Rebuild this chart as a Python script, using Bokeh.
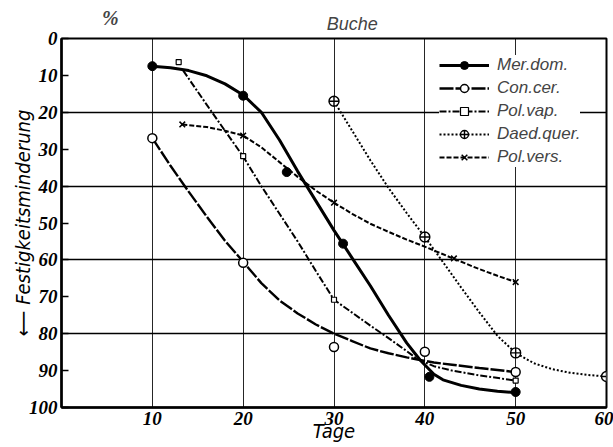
import math
from bokeh.plotting import figure
from bokeh.layouts import column
from bokeh.models import Range1d, FixedTicker, Legend, LegendItem, Label
from bokeh.embed import file_html
from bokeh.resources import INLINE

# ---- data (Tage vs. Festigkeitsminderung %) ----
series_names = ["Mer.dom.", "Con.cer.", "Pol.vap.", "Daed.quer.", "Pol.vers."]

# measured points (markers)
mer_days = [10, 20, 24.8, 31, 40.5, 50]
mer_vals = [7.5, 15.5, 36.2, 55.6, 91.7, 95.8]
con_days = [10, 20, 30, 40, 50]
con_vals = [27, 60.8, 83.6, 84.9, 90.4]
pvap_days = [12.9, 20, 30, 50]
pvap_vals = [6.4, 31.9, 70.8, 92.7]
dq_days = [30, 40, 50, 60]
dq_vals = [17, 53.8, 85.2, 91.6]
pvers_days = [13.3, 20, 30, 43.2, 50]
pvers_vals = [23.3, 26.3, 44.5, 59.6, 66]

# drawn curves
mer_curve_x = [10, 12, 14, 16, 18, 20, 22, 24, 26, 28, 30, 32, 34, 36, 38, 39.5, 41, 42, 44, 46, 48, 50]
mer_curve_y = [7.5, 7.9, 8.7, 10.1, 12.3, 15.3, 20, 27.5, 36, 44, 52, 59.5, 67, 75, 82.5, 87.2, 91, 92.5, 94, 95, 95.6, 96]
con_curve_x = [10, 12, 14, 16, 18, 20, 22, 24, 26, 28, 30, 32, 34, 36, 38, 39.2, 41, 43, 46, 50]
con_curve_y = [27, 34.5, 41.5, 48.3, 54.8, 60.5, 66.3, 71, 74.5, 77.5, 80, 82, 84, 85.3, 86.4, 87, 87.8, 88.4, 89.3, 90.4]
pvap_curve_x = [13.4, 16, 18, 20, 22, 24, 26, 28, 30, 32, 34, 36, 38, 39.2, 41, 43, 46, 50]
pvap_curve_y = [8.7, 18, 25, 32, 40, 47.5, 55, 63, 70.8, 74.3, 77.8, 81.2, 84.7, 86.9, 88.8, 90, 91.3, 92.7]
dq_curve_x = [30, 32, 34, 36, 38, 40, 42, 44, 46, 48, 50, 52, 54, 56, 58, 60]
dq_curve_y = [17, 25, 33, 40.5, 47.3, 53.8, 60.6, 67.5, 74.2, 80.6, 85.2, 88, 89.6, 90.6, 91.2, 91.6]
pvers_curve_x = [13.3, 16, 18, 20, 22, 24, 26, 28, 30, 32, 34, 36, 38, 40, 43, 46, 48, 50]
pvers_curve_y = [23.3, 24, 25, 26.3, 29.5, 33.5, 37.5, 41.2, 44.5, 47.5, 50.2, 52.4, 54.5, 56.4, 59.5, 62.5, 64.3, 66]

x_ticks = [10, 20, 30, 40, 50, 60]
y_ticks = [0, 10, 20, 30, 40, 50, 60, 70, 80, 90, 100]

FONT_TICK = "Noto Sans Condensed"
FONT_LAB = "DejaVu Sans Condensed"
SANS = "Liberation Sans"

HEAD_H = 38
OVERLAP = 12

# ---- header strip with "%" and title ----
head = figure(width=613, height=HEAD_H, x_range=Range1d(0, 613), y_range=Range1d(0, HEAD_H),
              output_backend="svg", toolbar_location=None, min_border=0,
              x_axis_type=None, y_axis_type=None)
head.outline_line_color = None
head.grid.visible = False
head.add_layout(Label(x=55, y=HEAD_H - 17, text="%", text_font=FONT_TICK, text_font_style="bold italic",
                      text_font_size="20px", text_align="center", text_baseline="middle"))
head.add_layout(Label(x=327, y=HEAD_H - 23, text="Buche", text_font=SANS, text_font_style="italic",
                      text_font_size="18px", text_align="center", text_baseline="middle"))

# ---- main chart ----
p = figure(width=613, height=447 - HEAD_H + OVERLAP, x_range=Range1d(0, 60), y_range=Range1d(100, 0),
           output_backend="svg", toolbar_location=None,
           min_border_left=61, min_border_right=7, min_border_top=OVERLAP, min_border_bottom=40)
p.margin = (-OVERLAP, 0, 0, 0)
p.background_fill_color = "white"
p.border_fill_alpha = 0
p.outline_line_color = "black"
p.outline_line_width = 2

p.xaxis.ticker = FixedTicker(ticks=x_ticks)
p.yaxis.ticker = FixedTicker(ticks=y_ticks)
for ax in (p.xaxis, p.yaxis):
    ax.axis_line_color = "black"
    ax.axis_line_width = 2.5
    ax.minor_tick_line_color = None
    ax.major_label_text_font = FONT_TICK
    ax.major_label_text_font_style = "bold italic"
    ax.major_label_text_font_size = "19px"
    ax.major_label_text_color = "black"
    ax.axis_label_text_font = FONT_LAB
    ax.axis_label_text_font_style = "italic"
    ax.axis_label_text_font_size = "20px"
    ax.axis_label_text_color = "black"
p.xaxis.major_tick_in = 0
p.xaxis.major_tick_out = 0
p.xaxis.major_label_standoff = 4
p.xaxis.axis_label = "Tage"
p.xaxis.axis_label_standoff = -9
p.yaxis.major_tick_in = 7
p.yaxis.major_tick_out = 0
p.yaxis.major_tick_line_width = 1.5
p.yaxis.major_tick_line_color = "black"
p.yaxis.major_label_standoff = 4
p.yaxis.axis_label = "\u27f5 Festigkeitsminderung"
p.yaxis.axis_label_standoff = -9

p.xgrid.ticker = FixedTicker(ticks=[10, 20, 30, 40, 50])
p.xgrid.grid_line_color = "black"
p.xgrid.grid_line_width = 1
p.xgrid.grid_line_alpha = 0.85
p.ygrid.ticker = FixedTicker(ticks=[20, 40, 60, 80])
p.ygrid.grid_line_color = "black"
p.ygrid.grid_line_width = 1.6

# curves
l_mer = p.line(mer_curve_x, mer_curve_y, line_color="black", line_width=3)
l_con = p.line(con_curve_x, con_curve_y, line_color="black", line_width=2.4, line_dash="14 2")
l_pvap = p.line(pvap_curve_x, pvap_curve_y, line_color="black", line_width=2, line_dash="7 2 2 2")
l_dq = p.line(dq_curve_x, dq_curve_y, line_color="black", line_width=2, line_dash="2 2")
l_pvers = p.line(pvers_curve_x, pvers_curve_y, line_color="black", line_width=2, line_dash="5 2")

# markers
s_mer = p.scatter(mer_days, mer_vals, marker="circle", size=9, fill_color="black", line_color="black")
s_con = p.scatter(con_days, con_vals, marker="circle", size=9, fill_color="white", line_color="black", line_width=1.5)
s_pvap = p.scatter(pvap_days, pvap_vals, marker="square", size=5, fill_color="white", line_color="black", line_width=1.2)
s_dq = p.scatter(dq_days, dq_vals, marker="circle_cross", size=10, fill_color="white", line_color="black", line_width=1.4)
s_pvers = p.scatter(pvers_days, pvers_vals, marker="x", size=8, line_color="black", line_width=1.5)

renderers = [(l_mer, s_mer), (l_con, s_con), (l_pvap, s_pvap), (l_dq, s_dq), (l_pvers, s_pvers)]
items = [LegendItem(label=n, renderers=list(r)) for n, r in zip(series_names, renderers)]
legend = Legend(items=items, location=(378, 240), orientation="vertical",
                glyph_width=50, glyph_height=20, label_height=20, spacing=3, padding=6,
                margin=0, label_standoff=8,
                label_text_font=SANS, label_text_font_style="italic", label_text_font_size="17px",
                border_line_color=None, background_fill_color="white", background_fill_alpha=1.0)
p.add_layout(legend)

layout = column(head, p, spacing=0)
open("out.html", "w").write(file_html(layout, INLINE))
